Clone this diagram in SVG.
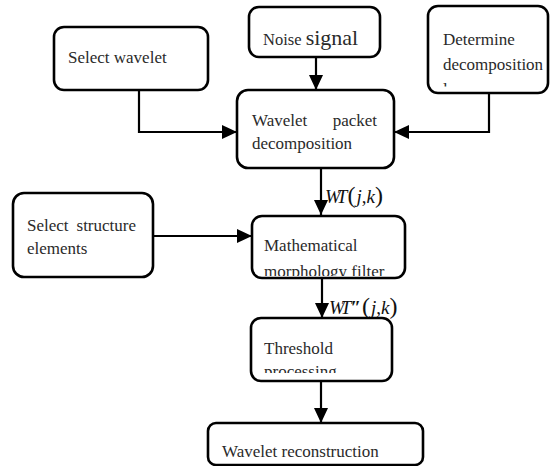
<svg xmlns="http://www.w3.org/2000/svg" width="550" height="466" viewBox="0 0 550 466">
<style>
  .box { fill: #ffffff; stroke: #000000; stroke-width: 2.6; }
  .txt { font-family: "Liberation Serif", "Times New Roman", serif; font-size: 17px; fill: #2a2a2a; }
  .conn { fill: none; stroke: #000000; stroke-width: 2.2; }
  .math { font-family: "Liberation Serif", "Times New Roman", serif; font-size: 19px; fill: #111111; }
  .wt { font-style: italic; letter-spacing: -4px; }
  .par { font-size: 24px; font-weight: 300; }
</style>
<defs>
  <marker id="arr" markerUnits="userSpaceOnUse" markerWidth="16" markerHeight="16" viewBox="0 0 16 16" refX="15" refY="8" orient="auto">
    <path d="M0,1 L15,8 L0,15 Z" fill="#000000"/>
  </marker>
  <clipPath id="clipDet"><rect x="428" y="6" width="122" height="80.5"/></clipPath>
  <clipPath id="clipMath"><rect x="252" y="216" width="153" height="60"/></clipPath>
  <clipPath id="clipThr"><rect x="251" y="318" width="141" height="55"/></clipPath>
</defs>

<g id="connectors">
  <line class="conn" x1="316" y1="57" x2="316" y2="90" marker-end="url(#arr)"/>
  <polyline class="conn" points="139,90 139,132 237,132" marker-end="url(#arr)"/>
  <polyline class="conn" points="489,93 489,132 394,132" marker-end="url(#arr)"/>
  <line class="conn" x1="321" y1="168" x2="321" y2="215" marker-end="url(#arr)"/>
  <line class="conn" x1="153" y1="236" x2="252" y2="236" marker-end="url(#arr)"/>
  <line class="conn" x1="322" y1="278" x2="322" y2="318" marker-end="url(#arr)"/>
  <line class="conn" x1="321" y1="381" x2="321" y2="423" marker-end="url(#arr)"/>
  <text class="math" x="325" y="203"><tspan class="wt">WT</tspan><tspan class="par" dx="4">(</tspan><tspan font-style="italic" dx="1">j</tspan>,<tspan font-style="italic">k</tspan><tspan class="par">)</tspan></text>
  <text class="math" x="329" y="314"><tspan class="wt">WT</tspan><tspan font-weight="bold" dx="3">″</tspan><tspan class="par" dx="1">(</tspan><tspan font-style="italic" dx="1">j</tspan>,<tspan font-style="italic">k</tspan><tspan class="par">)</tspan></text>
</g>

<g id="select-wavelet">
  <rect class="box" x="54" y="27" width="154" height="63" rx="10"/>
  <text class="txt" x="68" y="63" font-size="20">Select wavelet</text>
</g>

<g id="noise-signal">
  <rect class="box" x="249" y="7" width="131" height="50" rx="10"/>
  <text class="txt" x="263" y="45"><tspan font-size="16.5">Noise </tspan><tspan font-size="22">signal</tspan></text>
</g>

<g id="determine-layers">
  <rect class="box" x="428" y="6" width="120" height="87" rx="10"/>
  <g clip-path="url(#clipDet)">
    <text class="txt" x="443" y="45">Determine</text>
    <text class="txt" x="443" y="70" font-size="16.3">decomposition</text>
    <text class="txt" x="443" y="95">layers</text>
  </g>
</g>

<g id="wavelet-packet">
  <rect class="box" x="237" y="90" width="157" height="78" rx="11"/>
  <text class="txt" x="252" y="126">Wavelet</text>
  <text class="txt" x="377" y="126" text-anchor="end">packet</text>
  <text class="txt" x="252" y="149">decomposition</text>
</g>

<g id="select-structure">
  <rect class="box" x="13" y="193" width="140" height="84" rx="11"/>
  <text class="txt" x="27" y="231">Select</text>
  <text class="txt" x="136" y="231" text-anchor="end">structure</text>
  <text class="txt" x="27" y="254">elements</text>
</g>

<g id="morphology-filter">
  <rect class="box" x="252" y="216" width="153" height="62" rx="10"/>
  <g clip-path="url(#clipMath)">
    <text class="txt" x="264" y="251">Mathematical</text>
    <text class="txt" x="264" y="277">morphology filter</text>
  </g>
</g>

<g id="threshold">
  <rect class="box" x="251" y="318" width="141" height="63" rx="10"/>
  <g clip-path="url(#clipThr)">
    <text class="txt" x="264" y="354">Threshold</text>
    <text class="txt" x="264" y="377">processing</text>
  </g>
</g>

<g id="reconstruction">
  <rect class="box" x="208" y="423" width="215" height="42" rx="8"/>
  <text class="txt" x="222" y="457">Wavelet reconstruction</text>
</g>
</svg>
